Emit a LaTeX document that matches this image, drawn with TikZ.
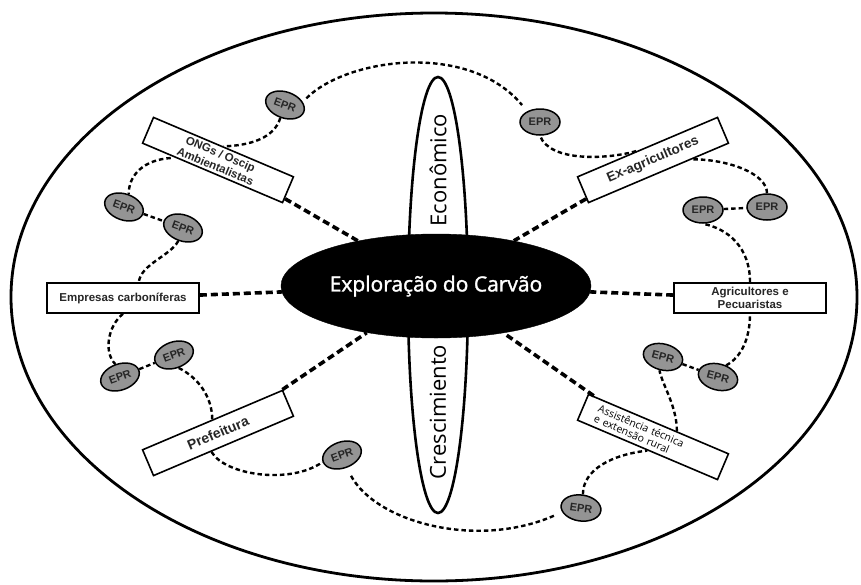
\documentclass[tikz,border=0pt]{standalone}
\usepackage{fontspec}
\setmainfont{Liberation Sans}
\newfontfamily\myriad{Open Sans}
\newfontfamily\myriadb[FakeBold=1.5]{Open Sans}
\usetikzlibrary{shapes.geometric}

\begin{document}
\begin{tikzpicture}[x=1pt,y=-1pt,
  caixa/.style={draw, line width=1.6pt, fill=white, minimum width=152pt, minimum height=28pt,
    inner sep=1pt, align=center, text=black!85, font=\bfseries\fontsize{11.5}{13}\selectfont},
  epr/.style={ellipse, draw, line width=1.5pt, fill=black!42, minimum width=40pt, minimum height=26pt,
    inner sep=0pt, text=black!85, font=\bfseries\fontsize{11}{11}\selectfont},
  liga/.style={line width=3.6pt, dash pattern=on 7pt off 4pt},
  elo/.style={line width=2.4pt, dash pattern=on 4.5pt off 3pt}]
\useasboundingbox (0,0) rectangle (861,584);

% moldura e eixos
\draw[line width=2.8pt] (434,297) ellipse [x radius=423, y radius=284];
\draw[line width=2.6pt] (438,295) ellipse [x radius=30, y radius=218];
\node[rotate=90, font=\myriad\fontsize{22}{22}\selectfont] (econ) at (438,170) {Econômico};
\node[rotate=90, font=\myriad\fontsize{22}{22}\selectfont] (cresc) at (438,412) {Crescimiento};
\node[ellipse, fill=black, draw, minimum width=262pt, minimum height=104pt, text=white,
  font=\myriadb\fontsize{21}{21}\selectfont] (centro) at (436,286) {Exploração do Carvão};

% atores
\node[caixa, rotate=-23, font=\bfseries\fontsize{11.5}{13.5}\selectfont] (ongs) at (218,160) {ONGs / Oscip\\Ambientalistas};
\node[caixa, rotate=23, font=\bfseries\fontsize{13.5}{14}\selectfont] (exagr) at (653,160) {Ex-agricultores};
\node[caixa, minimum height=30pt] (empresas) at (123,298) {Empresas carboníferas};
\node[caixa, minimum height=30pt] (agric) at (750,298) {Agricultores e\\Pecuaristas};
\node[caixa, rotate=23, font=\bfseries\fontsize{14}{14}\selectfont] (pref) at (218,433) {Prefeitura};
\node[caixa, rotate=-23, text width=122pt, align=left, text=black, inner sep=2pt,
  font=\myriad\fontsize{10.5}{11}\selectfont] (assist) at (653,437)
  {Assistência técnica\\e extensão rural};

\foreach \n in {ongs,exagr,empresas,agric,pref,assist}
  \draw[liga] (\n) -- (centro);

% EPR
\node[epr, rotate=-20] (a1) at (285,105) {EPR};
\node[epr, rotate=-20] (a2) at (124,207) {EPR};
\node[epr, rotate=-20] (a3) at (183,228) {EPR};
\node[epr, rotate=20] (b1) at (120,377) {EPR};
\node[epr, rotate=20] (b2) at (174,355) {EPR};
\node[epr, rotate=20] (c1) at (342,455) {EPR};
\node[epr, rotate=-8] (d1) at (581,508) {EPR};
\node[epr, rotate=-15] (f1) at (663,357) {EPR};
\node[epr, rotate=-15] (f2) at (718,377) {EPR};
\node[epr] (g1) at (703,210) {EPR};
\node[epr] (g2) at (767,207) {EPR};
\node[epr] (e1) at (540,122) {EPR};

% redes
\draw[elo, shorten <=5pt, shorten >=8pt] (a1.30) .. controls +(44,-44) and +(-58,-70) .. (e1.140);
\draw[elo] (a1.south) .. controls +(-6,20) and +(27,-1) .. (ongs.north);
\draw[elo, shorten <=4pt] (ongs.200) .. controls +(-30,2) and +(0,-20) .. (a2.north);
\draw[elo] (a2) -- (a3);
\draw[elo] (a3.south) .. controls +(-8,15) and +(2,-18) .. (empresas.45);
\draw[elo] (empresas.south) .. controls +(-15,12) and +(-12,-12) .. (b1.north);
\draw[elo] (b1) -- (b2);
\draw[elo] (b2.south) .. controls +(20,10) and +(0,-22) .. (pref.north);
\draw[elo] (pref.228) .. controls +(13,23) and +(-33,23) .. (c1.west);
\draw[elo, shorten <=9pt, shorten >=6pt] (c1.south) .. controls +(30,55) and +(-83,38) .. (d1.200);
\draw[elo] (d1.north) .. controls +(0,-25) and +(-35,4) .. (assist.south);
\draw[elo] (assist.37) .. controls +(0,-25) and +(3,15) .. (f1.south);
\draw[elo] (f1) -- (f2);
\draw[elo] (f2.70) .. controls +(15,-8) and +(0,25) .. (agric.south);
\draw[elo] (agric.north) .. controls +(0,-35) and +(25,5) .. (g1.south);
\draw[elo] (g1) -- (g2);
\draw[elo] (g2.north) .. controls +(0,-20) and +(35,0) .. (exagr.-22);
\draw[elo] (exagr.129) .. controls +(-27,8) and +(10,27) .. (e1.south);
\end{tikzpicture}
\end{document}
